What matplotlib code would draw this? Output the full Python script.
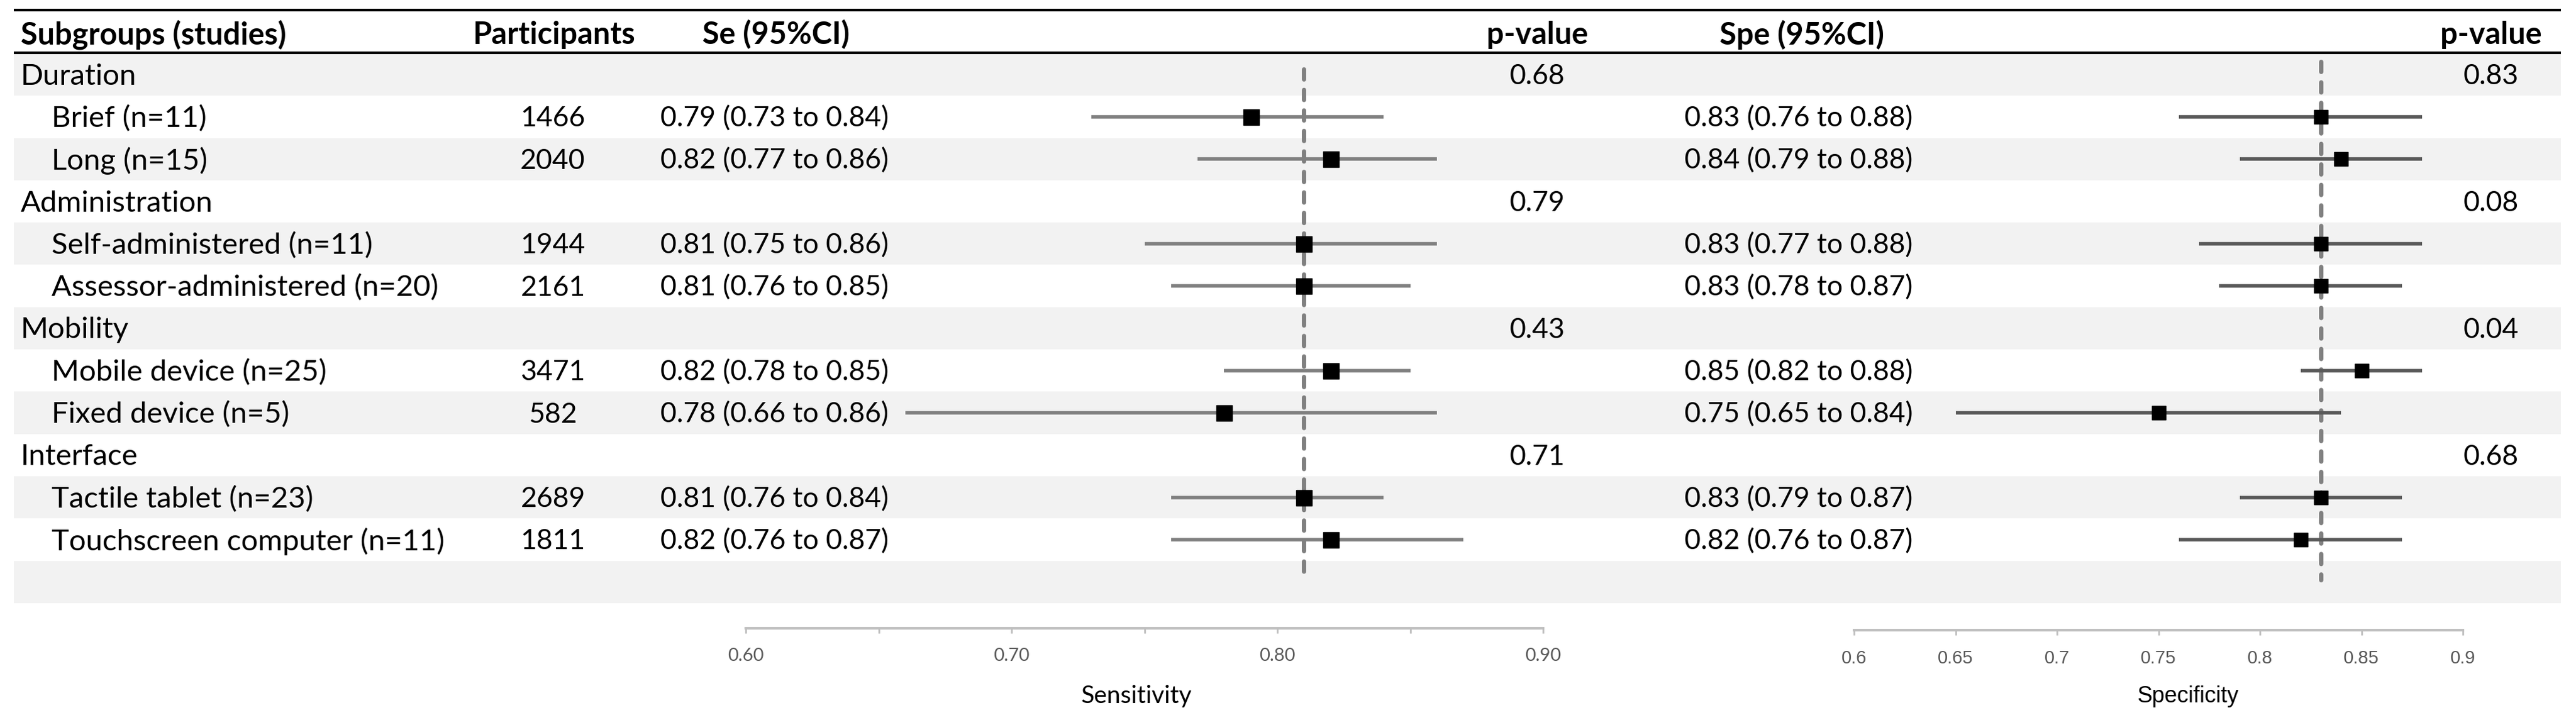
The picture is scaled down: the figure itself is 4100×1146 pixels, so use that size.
import matplotlib
matplotlib.use("Agg")
import matplotlib.pyplot as plt
import numpy as np

plt.rcParams['font.family'] = ['Lato', 'DejaVu Sans']

# ---- data ----
groups = ["Duration", "Administration", "Mobility", "Interface"]
subgroups = ["Brief (n=11)", "Long (n=15)",
             "Self-administered (n=11)", "Assessor-administered (n=20)",
             "Mobile device (n=25)", "Fixed device (n=5)",
             "Tactile tablet (n=23)", "Touchscreen computer (n=11)"]
participants = [1466, 2040, 1944, 2161, 3471, 582, 2689, 1811]
se = [0.79, 0.82, 0.81, 0.81, 0.82, 0.78, 0.81, 0.82]
se_lo = [0.73, 0.77, 0.75, 0.76, 0.78, 0.66, 0.76, 0.76]
se_hi = [0.84, 0.86, 0.86, 0.85, 0.85, 0.86, 0.84, 0.87]
spe = [0.83, 0.84, 0.83, 0.83, 0.85, 0.75, 0.83, 0.82]
spe_lo = [0.76, 0.79, 0.77, 0.78, 0.82, 0.65, 0.79, 0.76]
spe_hi = [0.88, 0.88, 0.88, 0.87, 0.88, 0.84, 0.87, 0.87]
p_se = ["0.68", "0.79", "0.43", "0.71"]
p_spe = ["0.83", "0.08", "0.04", "0.68"]
se_pooled = 0.81
spe_pooled = 0.83

# ---- layout (pixels) ----
W, H = 4100, 1146
row_top = 85
row_h = 67.3
n_rows = 13
x_left, x_right = 22, 4076
fs = 34        # row labels
fs_num = 32    # numbers (Lato digits are wider than the original font)
fs_head = 35

fig = plt.figure(figsize=(W / 100, H / 100), dpi=100)
tab = fig.add_axes([0, 0, 1, 1])
tab.set_xlim(0, W)
tab.set_ylim(H, 0)
tab.axis('off')

def row_y(i):
    return row_top + (i + 0.5) * row_h

# stripes
for i in range(0, n_rows, 2):
    tab.barh(row_y(i), x_right - x_left, left=x_left, height=row_h,
             color='#F2F2F2', zorder=0)

tab.hlines([16, 84], x_left, x_right, color='black', lw=3, zorder=2)

# header
hy = 55
tab.text(33, hy, "Subgroups (studies)", fontsize=fs_head, fontweight='bold', va='center', ha='left')
tab.text(881, hy, "Participants", fontsize=fs_head, fontweight='bold', va='center', ha='center')
tab.text(1118, hy, "Se (95%CI)", fontsize=fs_head, fontweight='bold', va='center', ha='left')
tab.text(2447, hy, "p-value", fontsize=fs_head, fontweight='bold', va='center', ha='center')
tab.text(2737, hy, "Spe (95%CI)", fontsize=fs_head, fontweight='bold', va='center', ha='left')
tab.text(3965, hy, "p-value", fontsize=fs_head, fontweight='bold', va='center', ha='center')

# rows
sub_rows = []
for g in range(len(groups)):
    r = 3 * g
    y = row_y(r) + 3
    tab.text(33, y, groups[g], fontsize=fs, va='center', ha='left')
    tab.text(2447, y, p_se[g], fontsize=fs_num, va='center', ha='center')
    tab.text(3965, y, p_spe[g], fontsize=fs_num, va='center', ha='center')
    sub_rows += [r + 1, r + 2]

for k, r in enumerate(sub_rows):
    y = row_y(r) + 3
    tab.text(82, y, subgroups[k], fontsize=fs, va='center', ha='left')
    tab.text(880, y, str(participants[k]), fontsize=fs_num, va='center', ha='center')
    tab.text(1051, y, "%.2f (%.2f to %.2f)" % (se[k], se_lo[k], se_hi[k]),
             fontsize=fs_num, va='center', ha='left')
    tab.text(2681, y, "%.2f (%.2f to %.2f)" % (spe[k], spe_lo[k], spe_hi[k]),
             fontsize=fs_num, va='center', ha='left')

tab.text(1809, 1108, "Sensitivity", fontsize=28, va='center', ha='center')
tab.text(3482, 1108, "Specificity", fontsize=26, va='center', ha='center',
         family='Liberation Sans')


def forest(x0, x1, axis_y, est, lo, hi, pooled, line_col, msize, dash_top,
           major, minor, fmt, tick_font):
    ax = fig.add_axes([x0 / W, (H - axis_y) / H, (x1 - x0) / W, (axis_y - row_top) / H])
    ax.patch.set_visible(False)
    ax.set_xlim(0.6, 0.9)
    ax.set_ylim((axis_y - row_top) / row_h - 0.5, -0.5)
    for s in ['top', 'left', 'right']:
        ax.spines[s].set_visible(False)
    ax.spines['bottom'].set_color('#BFBFBF')
    ax.spines['bottom'].set_linewidth(3)
    ax.set_yticks([])
    ax.set_xticks(major)
    ax.set_xticks(minor, minor=True)
    ax.set_xticklabels([fmt % v for v in major], fontsize=21, color='#595959',
                       family=tick_font)
    ax.tick_params(axis='x', which='both', length=6, width=2, color='#BFBFBF', pad=16)
    ax.vlines(pooled, dash_top, 11.95, color='#808080', lw=5,
              linestyles=[(0, (2.3, 2.4))], capstyle='round', zorder=1)
    ax.hlines(sub_rows, lo, hi, color=line_col, lw=4, zorder=2)
    ax.plot(est, sub_rows, 's', color='black', markersize=msize, zorder=3)
    return ax


forest(1187, 2456, 1000, se, se_lo, se_hi, se_pooled, '#808080', 18, -0.13,
       [0.6, 0.7, 0.8, 0.9], [0.65, 0.75, 0.85], "%.2f", 'Lato')
forest(2951, 3920, 1003, spe, spe_lo, spe_hi, spe_pooled, '#595959', 16.5, -0.3,
       [0.6, 0.65, 0.7, 0.75, 0.8, 0.85, 0.9], [], "%g", 'Liberation Sans')

fig.savefig("out.png", dpi=100)
